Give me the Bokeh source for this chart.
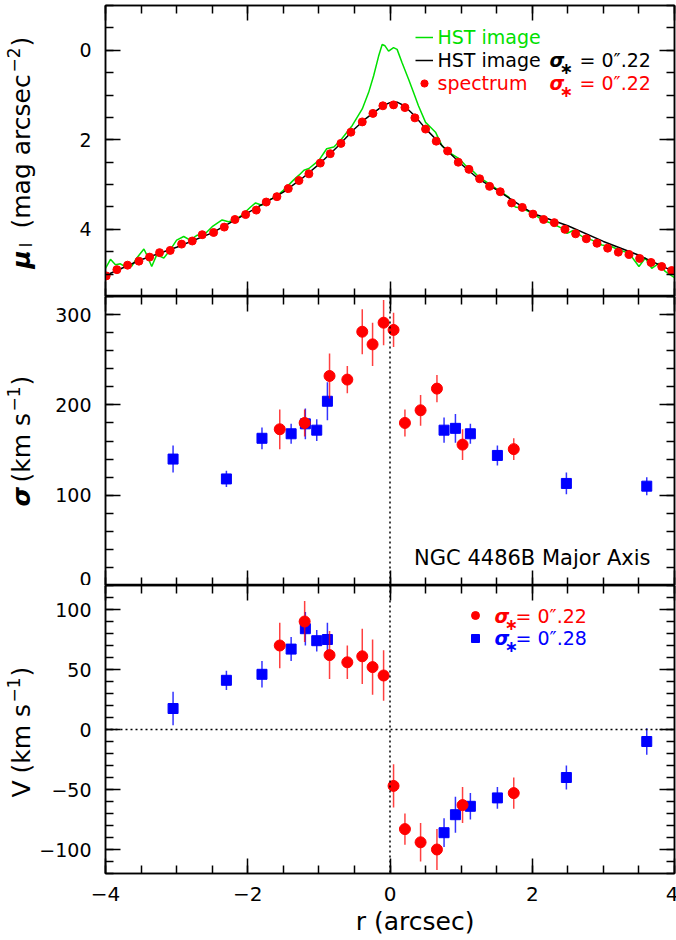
import math
from bokeh.plotting import figure
from bokeh.layouts import column, row
from bokeh.models import (Range1d, SingleIntervalTicker, LinearAxis, Label,
                          Span, Legend, LegendItem)
from bokeh.embed import file_html
from bokeh.resources import INLINE
from bokeh.core.properties import value

# ---------------- data ----------------
# top panel: surface brightness profile (mu_I, mag arcsec^-2)
spec_r = [-3.99, -3.84, -3.69, -3.53, -3.38, -3.24, -3.09, -2.93, -2.78, -2.64,
          -2.48, -2.33, -2.18, -2.03, -1.88, -1.74, -1.59, -1.43, -1.28, -1.14,
          -0.98, -0.84, -0.69, -0.55, -0.39, -0.24, -0.10, 0.05,
          0.21, 0.35, 0.50, 0.65, 0.81, 0.96, 1.11, 1.26, 1.40, 1.55,
          1.71, 1.86, 2.01, 2.16, 2.31, 2.46, 2.61, 2.76, 2.91, 3.06,
          3.21, 3.36, 3.51, 3.67, 3.82, 3.96]
spec_mu = [5.04, 4.90, 4.80, 4.71, 4.62, 4.52, 4.47, 4.33, 4.26, 4.12,
           4.07, 3.95, 3.78, 3.67, 3.57, 3.39, 3.27, 3.09, 2.91, 2.76,
           2.52, 2.31, 2.08, 1.83, 1.60, 1.41, 1.24, 1.22,
           1.28, 1.51, 1.76, 2.03, 2.25, 2.50, 2.66, 2.87, 3.04, 3.16,
           3.41, 3.51, 3.66, 3.78, 3.85, 4.00, 4.10, 4.21, 4.31, 4.42,
           4.51, 4.56, 4.65, 4.74, 4.83, 4.92]

hst_r = [-4.00, -3.93, -3.86, -3.79, -3.72, -3.63, -3.56, -3.46, -3.42, -3.35,
         -3.28, -3.18, -3.09, -3.00, -2.90, -2.81, -2.71, -2.62, -2.50, -2.36,
         -2.27, -2.18, -2.08, -1.96, -1.89, -1.80, -1.71, -1.61, -1.50, -1.35,
         -1.28, -1.21, -1.14, -1.00, -0.89, -0.79, -0.70, -0.53, -0.39, -0.30,
         -0.23, -0.16, -0.11, -0.07, -0.02, 0.05, 0.10, 0.17, 0.26, 0.33,
         0.40, 0.50, 0.57, 0.64, 0.73, 0.83, 0.97, 1.06, 1.11, 1.25,
         1.39, 1.53, 1.67, 1.76, 1.86, 2.00, 2.14, 2.28, 2.42, 2.49,
         2.58, 2.70, 2.84, 2.98, 3.12, 3.22, 3.36, 3.50, 3.59, 3.68,
         3.78, 3.87, 4.00]
hst_mu = [4.87, 4.67, 4.79, 4.77, 4.84, 4.82, 4.64, 4.44, 4.57, 4.83,
          4.57, 4.64, 4.46, 4.24, 4.16, 4.24, 4.13, 4.13, 3.94, 3.79,
          3.83, 3.79, 3.68, 3.50, 3.41, 3.46, 3.35, 3.28, 3.13, 2.89,
          2.79, 2.68, 2.64, 2.46, 2.20, 2.16, 2.02, 1.68, 1.31, 0.94,
          0.57, 0.13, -0.13, -0.10, 0.02, -0.06, -0.02, 0.28, 0.64, 0.94,
          1.24, 1.61, 1.72, 1.83, 2.13, 2.28, 2.42, 2.57, 2.61, 2.83,
          2.98, 3.13, 3.28, 3.50, 3.53, 3.64, 3.79, 3.87, 3.98, 4.09,
          4.02, 4.16, 4.24, 4.35, 4.39, 4.46, 4.53, 4.83, 4.64, 4.87,
          4.76, 4.94, 5.08]

conv_r = [-4.0, -3.5, -3.0, -2.5, -2.0, -1.5, -1.25, -1.0, -0.75, -0.5,
          -0.35, -0.2, -0.1, 0.0, 0.1, 0.2, 0.35, 0.5, 0.75, 1.0,
          1.25, 1.5, 2.0, 2.5, 3.0, 3.5, 4.0]
conv_mu = [5.03, 4.68, 4.40, 4.08, 3.63, 3.17, 2.88, 2.55, 2.17, 1.76,
           1.54, 1.36, 1.24, 1.17, 1.16, 1.24, 1.47, 1.75, 2.16, 2.54,
           2.88, 3.12, 3.64, 3.92, 4.27, 4.58, 4.95]

# middle / bottom panels: kinematics
r22 = [-1.55, -1.20, -0.85, -0.60, -0.39, -0.245, -0.09, 0.05, 0.21, 0.43, 0.66, 1.02, 1.74]
sig22 = [173, 180, 232, 228, 281, 267, 291, 283, 180, 194, 218, 156, 151]
esig22 = [22, 15, 25, 15, 25, 24, 25, 19, 15, 17, 15, 17, 12]
v22 = [70, 90, 62, 56, 61, 52, 45, -47, -83, -94, -100, -63, -53]
ev22 = [19, 17, 20, 14, 23, 23, 21, 18, 13, 16, 17, 15, 13]

r28 = [-3.05, -2.30, -1.80, -1.39, -1.19, -1.03, -0.88, 0.76, 0.92, 1.13, 1.51, 2.48, 3.61]
sig28 = [140, 118, 163, 168, 179, 172, 204, 172, 174, 168, 144, 113, 110]
esig28 = [15, 9, 12, 11, 17, 12, 21, 14, 16, 11, 11, 12, 10]
v28 = [17.5, 41, 46, 67, 84, 74, 75, -86, -71, -64, -57, -40, -10]
ev28 = [14, 8, 11, 10, 14, 9, 14, 12, 15, 11, 9, 10, 11]

# ---------------- styling / layout ----------------
FONT = "DejaVu Sans"
RED = "#ff0000"
BLUE = "#0000ff"
GREEN = "#00e000"
W = 676
H = 940
G = 36             # left gutter (rotated axis titles)
FL, FR = 103, 672  # frame left/right in page px
XMIN, XMAX = -4.0, 4.0
VERT = math.pi / 2
MID = 0.346        # em-box middle above the baseline (DejaVu metrics)


def X(px):
    return XMIN + (px - FL) * (XMAX - XMIN) / (FR - FL)


def style_axis(ax, show, overrides=None, standoff=12, fs="20px"):
    ax.axis_line_width = 1.5
    ax.axis_line_color = "black"
    ax.major_tick_in = 15
    ax.major_tick_out = 0
    ax.minor_tick_in = 8
    ax.minor_tick_out = 0
    ax.major_tick_line_width = 1.5
    ax.minor_tick_line_width = 1.5
    if show:
        ax.major_label_text_font = FONT
        ax.major_label_text_font_size = fs
        ax.major_label_text_color = "black"
        ax.major_label_standoff = standoff
        if overrides:
            ax.major_label_overrides = overrides
    else:
        ax.major_label_text_color = None
        ax.major_label_standoff = 0


def panel(y_range, ftop, fbot, btop, bbot, yticker, xlabels=False,
          xover=None, yover=None):
    p = figure(frame_width=FR - FL, frame_height=fbot - ftop,
               min_border_left=FL - G, min_border_right=W - FR,
               min_border_top=btop, min_border_bottom=bbot,
               x_range=Range1d(XMIN, XMAX), y_range=y_range,
               x_axis_location=None, y_axis_location=None,
               output_backend="svg", toolbar_location=None,
               background_fill_color="white", border_fill_color="white")
    p.grid.visible = False
    p.outline_line_color = "black"
    p.outline_line_width = 1.5
    for side in ("below", "above"):
        ax = LinearAxis(ticker=SingleIntervalTicker(interval=2, num_minor_ticks=4))
        style_axis(ax, xlabels and side == "below", xover, 13, "20px")
        p.add_layout(ax, side)
    for side in ("left", "right"):
        ax = LinearAxis(ticker=yticker)
        style_axis(ax, side == "left", yover, 14, "19px")
        p.add_layout(ax, side)
    return p


def add_text(p, xmap, ymap, px, py, text, fs=19, color="black", fstyle="normal",
             vertical=False, align="left"):
    """px, py: page pixels of the text start on its baseline."""
    if vertical:
        px = px - MID * fs
    else:
        py = py - MID * fs
    p.add_layout(Label(x=xmap(px), y=ymap(py), text=text, text_font=FONT,
                       text_font_size="%dpx" % fs, text_color=color,
                       text_font_style=fstyle, angle=VERT if vertical else 0.0,
                       text_align=align, text_baseline="middle"))


def sigma_star(p, ymap, px_sig, px_eq, py, color, txt):
    add_text(p, X, ymap, px_sig, py, "\u03c3", 19, color, "bold italic")
    add_text(p, X, ymap, px_sig + 10, py + 8, "\u2217", 16, color, "bold")
    add_text(p, X, ymap, px_eq, py, txt, 19, color)


# ---------- top panel ----------
T_TOP, T_BOT = 5, 296
p1 = panel(Range1d(5.5, -1.0), T_TOP, T_BOT, 5, 0,
           SingleIntervalTicker(interval=2, num_minor_ticks=4))


def Y1(py):
    return -1.0 + (py - T_TOP) * 6.5 / (T_BOT - T_TOP)


g_r = p1.line(hst_r, hst_mu, line_color=GREEN, line_width=1.5)
k_r = p1.line(conv_r, conv_mu, line_color="black", line_width=1.5)
s_r = p1.scatter(spec_r, spec_mu, size=8, fill_color=RED, line_color=RED)

leg1 = Legend(items=[LegendItem(label=value(" "), renderers=[g_r]),
                     LegendItem(label=value(" "), renderers=[k_r]),
                     LegendItem(label=value(" "), renderers=[s_r])],
              location=(310, 296 - 93), glyph_width=18, glyph_height=20,
              label_height=20, label_text_font_size="1px", spacing=3,
              padding=0, margin=0, background_fill_alpha=0,
              border_line_alpha=0, label_standoff=0)
p1.add_layout(leg1)

add_text(p1, X, Y1, 435, 43, "HST image", 19, GREEN)
add_text(p1, X, Y1, 435, 66, "HST image", 19, "black")
sigma_star(p1, Y1, 547, 577, 66, "black", "= 0\u2033.22")
add_text(p1, X, Y1, 435, 89, "spectrum", 19, RED)
sigma_star(p1, Y1, 547, 577, 89, RED, "= 0\u2033.22")

# ---------- middle panel ----------
M_TOP, M_BOT = 296, 585
p2 = panel(Range1d(0, 320), M_TOP, M_BOT, 0, 0,
           SingleIntervalTicker(interval=100, num_minor_ticks=5))


def Y2(py):
    return 320.0 * (M_BOT - py) / (M_BOT - M_TOP)


p2.add_layout(Span(location=0, dimension="height", line_color="black",
                   line_width=1.5, line_dash="2 3"))
p2.segment(r28, [a - b for a, b in zip(sig28, esig28)], r28,
           [a + b for a, b in zip(sig28, esig28)], line_color=BLUE,
           line_width=1.5, line_alpha=0.8)
p2.scatter(r28, sig28, marker="square", size=10, fill_color=BLUE, line_color=BLUE)
p2.segment(r22, [a - b for a, b in zip(sig22, esig22)], r22,
           [a + b for a, b in zip(sig22, esig22)], line_color=RED,
           line_width=1.5, line_alpha=0.75)
p2.scatter(r22, sig22, size=11, fill_color=RED, line_color=RED)

add_text(p2, X, Y2, 648, 565, "NGC 4486B Major Axis", 21, "black", align="right")

# ---------- bottom panel ----------
B_TOP, B_BOT = 585, 873
B_BORDER = 37
p3 = panel(Range1d(-120, 120), B_TOP, B_BOT, 0, B_BORDER,
           SingleIntervalTicker(interval=50, num_minor_ticks=5),
           xlabels=True, xover={-4: "\u22124", -2: "\u22122"},
           yover={-50: "\u221250", -100: "\u2212100"})


def Y3(py):
    return -120.0 + 240.0 * (B_BOT - py) / (B_BOT - B_TOP)


p3.add_layout(Span(location=0, dimension="height", line_color="black",
                   line_width=1.5, line_dash="2 3"))
p3.add_layout(Span(location=0, dimension="width", line_color="black",
                   line_width=1.5, line_dash="2 3"))
p3.segment(r28, [a - b for a, b in zip(v28, ev28)], r28,
           [a + b for a, b in zip(v28, ev28)], line_color=BLUE,
           line_width=1.5, line_alpha=0.8)
sq3 = p3.scatter(r28, v28, marker="square", size=10, fill_color=BLUE, line_color=BLUE)
p3.segment(r22, [a - b for a, b in zip(v22, ev22)], r22,
           [a + b for a, b in zip(v22, ev22)], line_color=RED,
           line_width=1.5, line_alpha=0.75)
ci3 = p3.scatter(r22, v22, size=11, fill_color=RED, line_color=RED)

leg3 = Legend(items=[LegendItem(label=value(" "), renderers=[ci3]),
                     LegendItem(label=value(" "), renderers=[sq3])],
              location=(463 - FL, B_BOT - 648), glyph_width=20, glyph_height=20,
              label_height=20, label_text_font_size="1px", spacing=3,
              padding=0, margin=0, background_fill_alpha=0,
              border_line_alpha=0, label_standoff=0)
p3.add_layout(leg3)
sigma_star(p3, Y3, 492, 513, 622, RED, "= 0\u2033.22")
sigma_star(p3, Y3, 492, 513, 644, BLUE, "= 0\u2033.28")


# ---------- gutter with the rotated axis titles (page-pixel coordinates) ----------
def blank(width, height, xr, yr):
    f = figure(width=width, height=height, x_range=xr, y_range=yr,
               min_border=0, x_axis_location=None, y_axis_location=None,
               output_backend="svg", toolbar_location=None,
               background_fill_color="white", border_fill_color="white")
    f.grid.visible = False
    f.outline_line_color = None
    return f


def ident(v):
    return v


def flip(v):
    return H - v


gut = blank(G, H, Range1d(0, G), Range1d(0, H))
BX = 29.5
# mu_I (mag arcsec^-2)
add_text(gut, ident, flip, BX, 268, "\u03bc", 25, "black", "bold italic", True)
add_text(gut, ident, flip, BX + 2, 247, "I", 17, "black", "normal", True)
add_text(gut, ident, flip, BX, 228, "(mag arcsec", 25, "black", "normal", True)
add_text(gut, ident, flip, BX - 11, 72, "\u22122", 17, "black", "normal", True)
add_text(gut, ident, flip, BX, 46, ")", 25, "black", "normal", True)
# sigma (km s^-1)
add_text(gut, ident, flip, BX, 506, "\u03c3", 25, "black", "bold italic", True)
add_text(gut, ident, flip, BX, 482, "(km s", 25, "black", "normal", True)
add_text(gut, ident, flip, BX - 11, 411, "\u22121", 17, "black", "normal", True)
add_text(gut, ident, flip, BX, 385, ")", 25, "black", "normal", True)
# V (km s^-1)
add_text(gut, ident, flip, BX, 797, "V", 25, "black", "normal", True)
add_text(gut, ident, flip, BX, 773, "(km s", 25, "black", "normal", True)
add_text(gut, ident, flip, BX - 11, 702, "\u22121", 17, "black", "normal", True)
add_text(gut, ident, flip, BX, 676, ")", 25, "black", "normal", True)

# ---------- strip under the bottom panel with the x-axis title ----------
S_TOP = B_BOT + B_BORDER
strip = blank(W - G, H - S_TOP, Range1d(G, W), Range1d(H, S_TOP))
add_text(strip, ident, ident, 390, 930, "r  (arcsec)", 25, "black", "normal", False, "center")

layout = row(gut, column(p1, p2, p3, strip, spacing=0), spacing=0)
open("out.html", "w").write(file_html(layout, INLINE))
